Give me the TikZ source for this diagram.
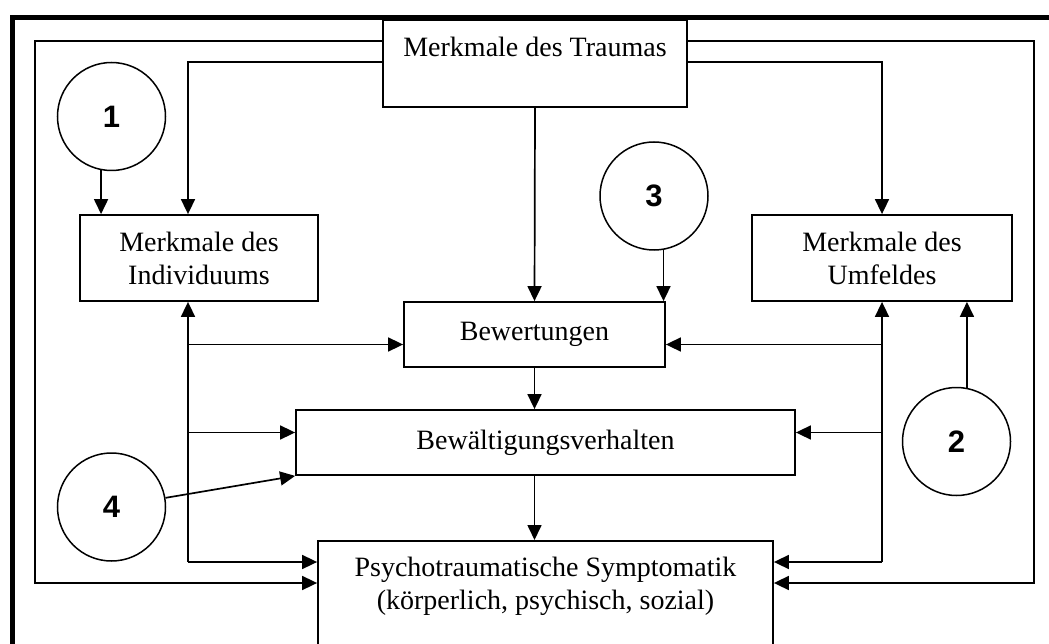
\documentclass[tikz,border=0pt]{standalone}
\usepackage{fontspec}
\setmainfont{Liberation Serif}
\newfontfamily\numfont{Liberation Sans}
\usetikzlibrary{arrows.meta,calc}

\begin{document}
\begin{tikzpicture}[x=1pt,y=-1pt,
  box/.style={draw,line width=1.8pt,align=center,inner sep=0pt,
    font=\fontsize{28}{33}\selectfont},
  num/.style={draw,circle,line width=1.5pt,minimum size=108pt,inner sep=0pt,
    font=\numfont\bfseries\fontsize{31}{31}\selectfont},
  arr/.style={line width=1.7pt,-{Triangle[length=15pt,width=14pt]}}]
  \useasboundingbox (0,0) rectangle (1049,644);
  \clip (0,0) rectangle (1049,644);
  \draw[line width=5pt] (12.5,17.5) rectangle (1100,700);

  \node[box,minimum width=304pt,minimum height=87pt] (trauma) at (535,63.5) {Merkmale des Traumas\\~};
  \node[box,minimum width=238pt,minimum height=86pt] (indiv) at (199,258) {Merkmale des\\Individuums};
  \node[box,minimum width=260pt,minimum height=86pt] (umfeld) at (882,258) {Merkmale des\\Umfeldes};
  \node[box,minimum width=261pt,minimum height=65pt] (bewert) at (534.5,334.5) {Bewertungen};
  \node[box,minimum width=499pt,minimum height=65pt] (bewaelt) at (545.5,442.5) {Bewältigungsverhalten};
  \node[box,minimum width=455pt,minimum height=120pt,anchor=north] (psycho) at (545.5,540)
    {Psychotraumatische Symptomatik\\(körperlich, psychisch, sozial)\\[3pt]~};

  \node[num] (c1) at (111.5,116.5) {1};
  \node[num] (c2) at (956.5,441.5) {2};
  \node[num] (c3) at (654,196) {3};
  \node[num] (c4) at (111.5,507) {4};

  \draw[arr] ([yshift=-22pt]trauma.north west) -- ++(-347,0) |- ([yshift=-43pt]psycho.north west);
  \draw[arr] ([yshift=-22pt]trauma.north east) -- ++(346,0) |- ([yshift=-43pt]psycho.north east);
  \draw[arr] ([yshift=-43pt]trauma.north west) -| ([xshift=-11pt]indiv.north);
  \draw[arr] ([yshift=-43pt]trauma.north east) -| (umfeld.north);
  \draw[arr] (trauma.south) -- (bewert.north);
  \draw[arr] (bewert.south) -- (bewert.south |- bewaelt.north);
  \draw[arr] (bewert.south |- bewaelt.south) -- (bewert.south |- psycho.north);

  \draw[arr] (c1.259) -- (c1.259 |- indiv.north);
  \draw[arr] (c3.280) -- (c3.280 |- bewert.north);
  \draw[arr] (c2.79) -- (c2.79 |- umfeld.south);
  \draw[arr] (c4) -- (bewaelt.south west);

  \coordinate (lb) at ([xshift=-11pt,yshift=-22pt]indiv.south |- psycho.north);
  \coordinate (rb) at ([yshift=-22pt]umfeld.south |- psycho.north);
  \coordinate (bwl) at ([yshift=-10pt]bewert.west);
  \coordinate (bwr) at ([yshift=-10pt]bewert.east);
  \coordinate (bvl) at ([yshift=10pt]bewaelt.west);
  \coordinate (bvr) at ([yshift=10pt]bewaelt.east);

  \draw[arr] (lb) -- ([xshift=-11pt]indiv.south);
  \draw[arr] (lb) -- (lb -| psycho.west);
  \draw[arr] (bwl -| lb) -- (bwl);
  \draw[arr] (bvl -| lb) -- (bvl);
  \draw[arr] (rb) -- (umfeld.south);
  \draw[arr] (rb) -- (rb -| psycho.east);
  \draw[arr] (bwr -| rb) -- (bwr);
  \draw[arr] (bvr -| rb) -- (bvr);
\end{tikzpicture}
\end{document}
